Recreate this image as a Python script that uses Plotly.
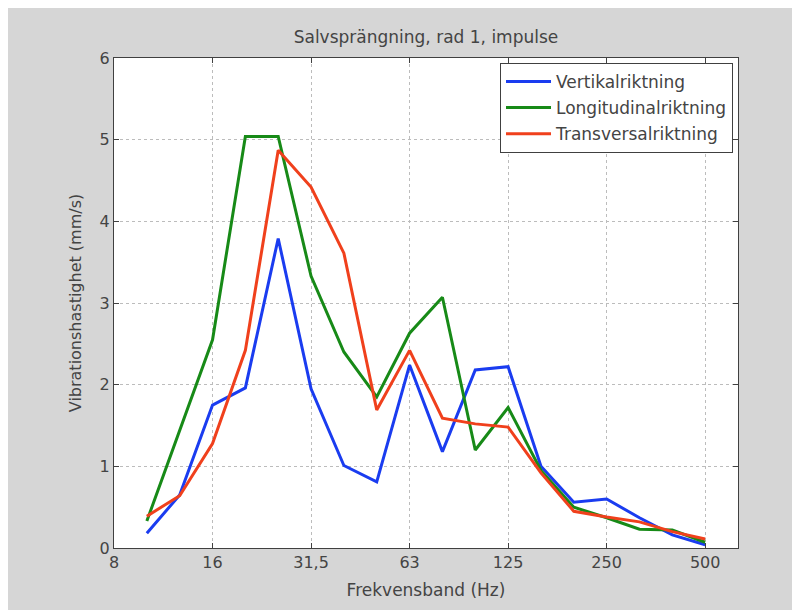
import plotly.graph_objects as go

bands = ["10", "12,5", "16", "20", "25", "31,5", "40", "50", "63", "80",
         "100", "125", "160", "200", "250", "315", "400", "500"]
tick_labels = ["8", "16", "31,5", "63", "125", "250", "500"]

vertikal = [0.18, 0.65, 1.75, 1.96, 3.79, 1.95, 1.01, 0.81, 2.24, 1.18,
            2.18, 2.22, 1.00, 0.56, 0.60, 0.37, 0.16, 0.04]
longitudinal = [0.33, 1.45, 2.55, 5.04, 5.04, 3.33, 2.40, 1.85, 2.63, 3.07,
                1.20, 1.72, 0.95, 0.50, 0.37, 0.23, 0.22, 0.07]
transversal = [0.39, 0.64, 1.28, 2.42, 4.87, 4.42, 3.61, 1.69, 2.42, 1.59,
               1.52, 1.48, 0.92, 0.45, 0.38, 0.32, 0.20, 0.11]

series = [
    ("Vertikalriktning", vertikal, "#1a3cf0"),
    ("Longitudinalriktning", longitudinal, "#178a17"),
    ("Transversalriktning", transversal, "#f0401c"),
]

x = list(range(1, len(bands) + 1))
tickvals = list(range(0, 3 * len(tick_labels), 3))

fig = go.Figure()
for name, vals, col in series:
    fig.add_trace(go.Scatter(x=x, y=vals, mode="lines", name=name,
                             legendgroup=name, text=bands,
                             line=dict(color=col, width=3)))

font_family = "DejaVu Sans, Liberation Sans, sans-serif"
txt = "#444444"
axis_common = dict(
    showline=True, linecolor="#404040", linewidth=1, mirror="ticks",
    ticks="inside", ticklen=5, tickcolor="#404040",
    showgrid=True, gridcolor="#bcbcbc", griddash="dot", gridwidth=1,
    zeroline=False, automargin=False,
    tickfont=dict(size=16, color=txt, family=font_family),
)

fig.update_layout(
    width=800, height=610,
    margin=dict(l=106, r=70, t=50, b=70),
    paper_bgcolor="#d6d6d6", plot_bgcolor="white",
    title=dict(text="Salvsprängning, rad 1, impulse", x=0.5, xanchor="center",
               xref="paper",
               y=1 - 29 / 610, yanchor="middle",
               font=dict(size=17, color=txt, family=font_family)),
    xaxis=dict(range=[0, 19], tickvals=tickvals, ticktext=tick_labels,
               title=dict(text="Frekvensband (Hz)", standoff=12,
                          font=dict(size=17, color=txt, family=font_family)),
               **axis_common),
    yaxis=dict(range=[0, 6], dtick=1,
               title=dict(text="Vibrationshastighet (mm/s)", standoff=14,
                          font=dict(size=16, color=txt, family=font_family)),
               **axis_common),
    legend=dict(x=0.992, y=0.99, xanchor="right", yanchor="top",
                bgcolor="white", bordercolor="#404040", borderwidth=1,
                font=dict(size=17, color=txt, family=font_family),
                itemwidth=45, tracegroupgap=1),
    showlegend=True,
)

fig.write_html("out.html")
